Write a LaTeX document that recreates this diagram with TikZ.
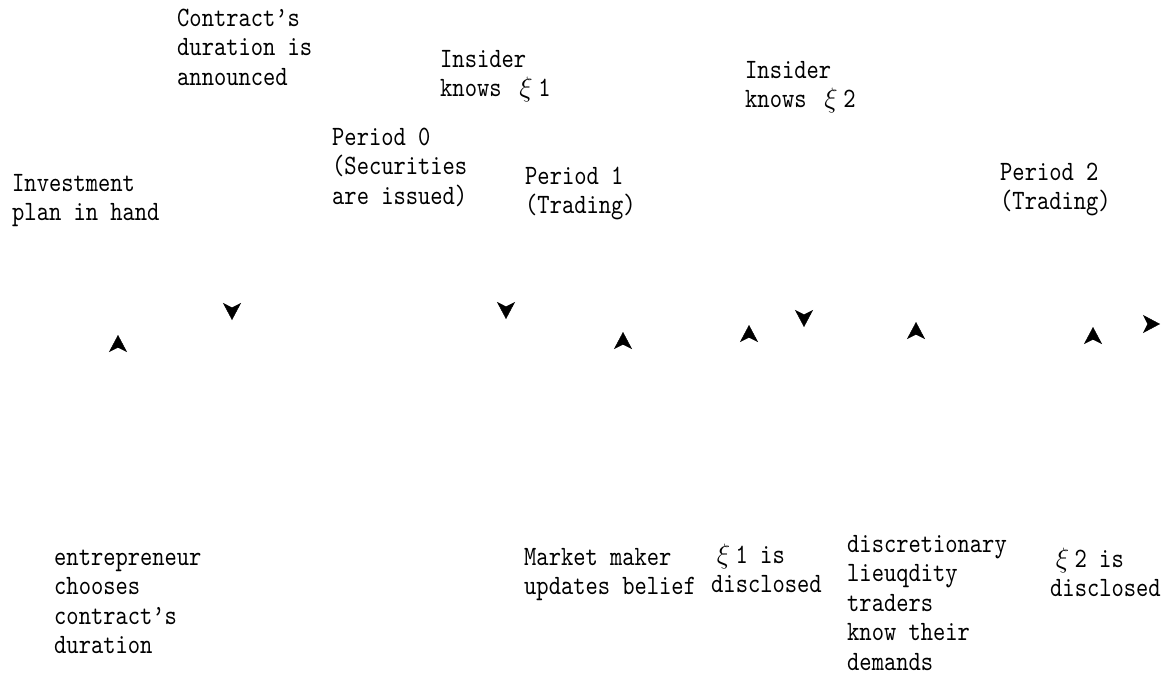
\RequirePackage{fix-cm}
\documentclass[tikz,border=0pt]{standalone}
\usepackage{fontspec}
\usetikzlibrary{arrows.meta}
% condensed typewriter face for all labels
\newfontfamily\labelfont{lmmono10-regular.otf}[FakeStretch=0.835]
\newcommand{\stack}[1]{\begin{tabular}[t]{@{}l@{}}#1\end{tabular}}
% full-width xi occupying two character cells
\newcommand{\xiw}{\makebox[24.5pt][c]{$\xi$}}

\begin{document}
\begin{tikzpicture}[x=1pt,y=-1pt,
  lbl/.style={anchor=base west, inner sep=0pt,
    font={\labelfont\fontsize{28}{29.5}\selectfont}},
  tip/.style={-{Stealth[length=17pt,width=18pt,inset=4.5pt]}, line width=0.4pt}]
\useasboundingbox (0,0) rectangle (1174,678);

% events above the time line
\node[lbl] (plan)    at (12,191)  {\stack{Investment\\plan in hand}};
\node[lbl] (announce) at (177,26) {\stack{Contract’s\\duration is\\announced}};
\node[lbl] (period0) at (332,145) {\stack{Period 0\\(Securities\\are issued)}};
\node[lbl] (ins1)    at (440,67)  {\stack{Insider\\knows \xiw1}};
\node[lbl] (period1) at (525,184) {\stack{Period 1\\(Trading)}};
\node[lbl] (ins2)    at (745,78)  {\stack{Insider\\knows \xiw2}};
\node[lbl] (period2) at (1000,180) {\stack{Period 2\\(Trading)}};

% events below the time line
\node[lbl] (choose)  at (54,565)  {\stack{entrepreneur\\chooses\\contract’s\\duration}};
\node[lbl] (mm)      at (524,565) {\stack{Market maker\\updates belief}};
\node[lbl] (disc1)   at (711,563) {\stack{\xiw1 is\\disclosed}};
\node[lbl] (liq)     at (847,552) {\stack{discretionary\\lieuqdity\\traders\\know their\\demands}};
\node[lbl] (disc2)   at (1050,567) {\stack{\xiw2 is\\disclosed}};

% arrow heads along the time line
\coordinate (a1) at (118,335);  \coordinate (a1s) at (118,347);
\coordinate (a2) at (232,320);  \coordinate (a2s) at (232,308);
\coordinate (a3) at (506,319);  \coordinate (a3s) at (506,307);
\coordinate (a4) at (623,332);  \coordinate (a4s) at (623,344);
\coordinate (a5) at (749,325);  \coordinate (a5s) at (749,337);
\coordinate (a6) at (804,327);  \coordinate (a6s) at (804,315);
\coordinate (a7) at (916,322);  \coordinate (a7s) at (916,334);
\coordinate (a8) at (1093,327); \coordinate (a8s) at (1093,339);
\coordinate (a9) at (1160,324); \coordinate (a9s) at (1148,324);

\foreach \k in {1,...,9} {
  \draw[tip] (a\k s) -- (a\k);
}
\end{tikzpicture}
\end{document}
